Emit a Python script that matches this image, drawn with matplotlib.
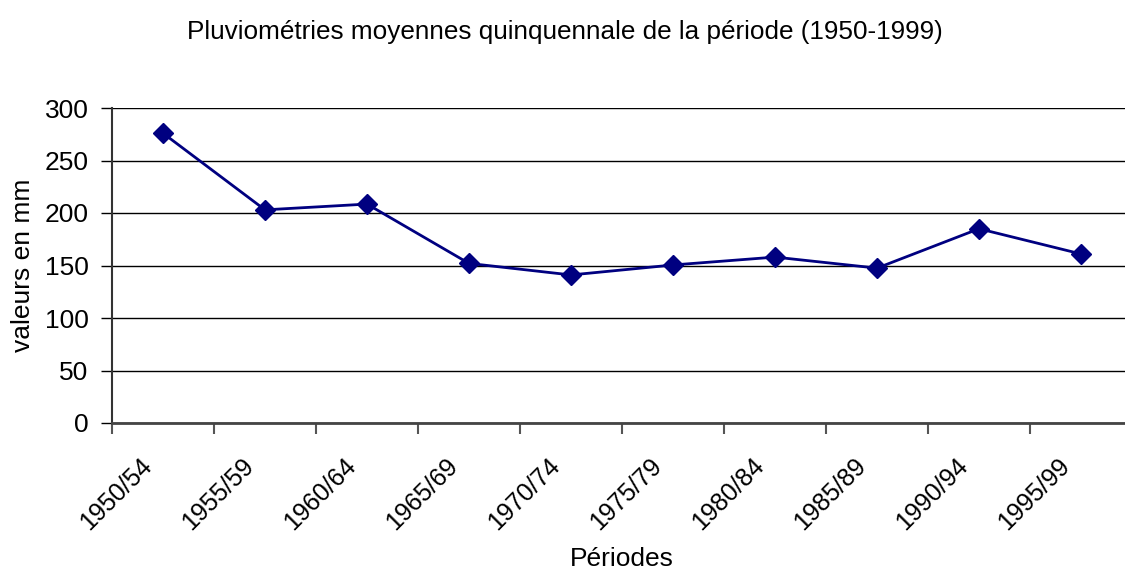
import numpy as np
import matplotlib.pyplot as plt
from matplotlib.transforms import ScaledTranslation

plt.rcParams['font.family'] = ['Liberation Sans', 'DejaVu Sans']

periodes = ['1950/54', '1955/59', '1960/64', '1965/69', '1970/74',
            '1975/79', '1980/84', '1985/89', '1990/94', '1995/99']
pluie = [276, 203, 208.5, 152, 141, 150.5, 158, 147.5, 185, 161]
yticks = [0, 50, 100, 150, 200, 250, 300]

fig = plt.figure(figsize=(11.25, 5.74), dpi=100)
ax = fig.add_axes([112/1125, 1 - 423/574, 1020/1125, 315/574])

x = np.arange(len(periodes))
ax.plot(x, pluie, color='#000080', lw=2, marker='D', markersize=10.5, zorder=3)

ax.set_xlim(-0.5, len(periodes) - 0.5)
ax.set_ylim(0, 300)
ax.set_yticks(yticks)
ax.yaxis.grid(True, color='black', lw=1)
ax.set_axisbelow(True)

# ticks on the category boundaries, labels on the centres
ax.set_xticks(np.arange(len(periodes) + 1) - 0.5)
ax.set_xticklabels([])
ax.set_xticks(x, minor=True)
ax.set_xticklabels(periodes, minor=True, rotation=45, ha='right', va='top',
                   rotation_mode='anchor', fontsize=18)
ax.tick_params(axis='x', which='minor', length=0, pad=22)
ax.tick_params(axis='x', which='major', length=8, width=1.5, color='#555555')
ax.tick_params(axis='y', length=8, width=1, labelsize=19, pad=9)
shift = ScaledTranslation(-23/100, 0, fig.dpi_scale_trans)
for lab in ax.get_xticklabels(minor=True):
    lab.set_transform(lab.get_transform() + shift)

for s in ['top', 'right']:
    ax.spines[s].set_visible(False)
ax.spines['left'].set_color('#333333')
ax.spines['left'].set_linewidth(1.5)
ax.spines['bottom'].set_color('#444444')
ax.spines['bottom'].set_linewidth(2)

ax.set_ylabel('valeurs en mm', fontsize=19, labelpad=7)
ax.set_xlabel('Périodes', fontsize=19)
ax.xaxis.set_label_coords(0.5, -0.394)
fig.text(565/1125, 1 - 32/574, 'Pluviométries moyennes quinquennale de la période (1950-1999)',
         ha='center', va='center', fontsize=18.8)

fig.savefig('out.png', dpi=100)
